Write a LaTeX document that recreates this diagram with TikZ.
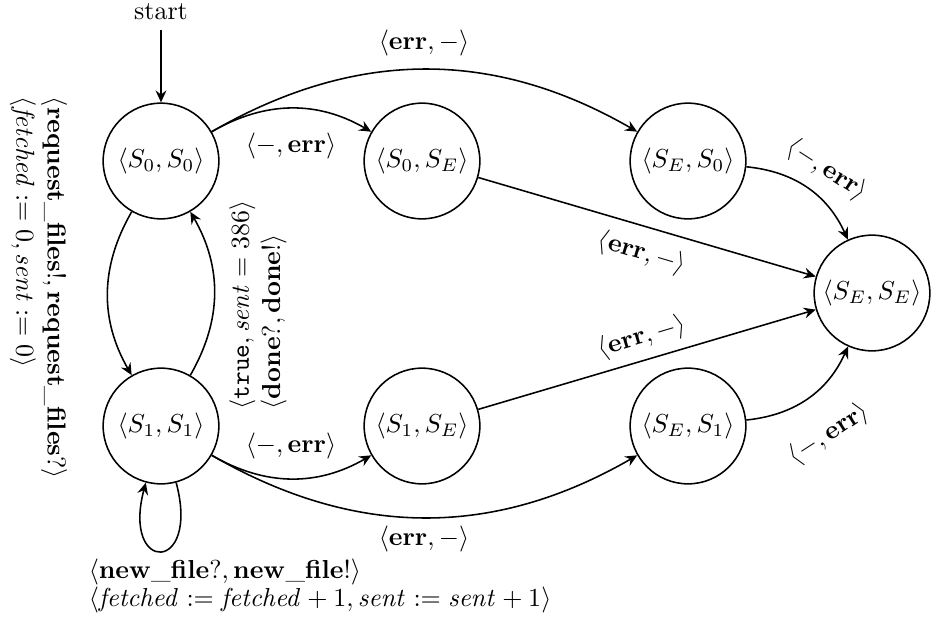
\documentclass[tikz,border=0pt]{standalone}
\usetikzlibrary{arrows.meta}
\begin{document}
\begin{tikzpicture}[x=0.3846pt,y=0.3846pt,
    >={Stealth[length=4.6pt,width=4.2pt,inset=1.6pt]},
    every path/.style={semithick},
    state/.style={circle,draw,semithick,minimum size=44.5pt,inner sep=0pt},
    lbl/.style={inner sep=0pt},
    tr/.style={->}]
  \useasboundingbox (0,0) rectangle (936,-623);

  % states
  \node[state] (s00) at (161,-161) {$\langle S_0,S_0\rangle$};
  \node[state] (s11) at (161,-426) {$\langle S_1,S_1\rangle$};
  \node[state] (s0e) at (422,-161) {$\langle S_0,S_E\rangle$};
  \node[state] (s1e) at (422,-426) {$\langle S_1,S_E\rangle$};
  \node[state] (se0) at (688,-161) {$\langle S_E,S_0\rangle$};
  \node[state] (se1) at (688,-426) {$\langle S_E,S_1\rangle$};
  \node[state] (see) at (872,-293) {$\langle S_E,S_E\rangle$};

  % initial marker
  \node (start) at (161,-12) {start};
  \draw[tr] (start) -- (s00);

  % transitions
  \draw[tr] (s00) to[bend right=30] (s11);
  \draw[tr] (s11) to[bend right=30] (s00);
  \draw[tr] (s00) to[bend left=30] (s0e);
  \draw[tr] (s00) to[bend left=30] (se0);
  \draw[tr] (s11) to[bend right=30] (s1e);
  \draw[tr] (s11) to[bend right=30] (se1);
  \draw[tr] (s0e) -- (see);
  \draw[tr] (s1e) -- (see);
  \draw[tr] (se0) to[bend left=30] (see);
  \draw[tr] (se1) to[bend right=30] (see);
  \draw[tr] (s11) to[loop below, looseness=8] (s11);

  % transition labels
  \node[lbl, rotate=-90, align=left] (lrq) at (38.5,-288)
    {$\langle \mathbf{request\_files!}, \mathbf{request\_files?}\rangle$\\
     $\langle \mathit{fetched} := 0, \mathit{sent} := 0\rangle$};
  \node[lbl, rotate=90, align=left] (ldn) at (258,-305)
    {$\langle \mathtt{true}, \mathit{sent} = 386\rangle$\\
     $\langle \mathbf{done?}, \mathbf{done!}\rangle$};
  \node[lbl, anchor=west, align=left] (lnf) at (88,-586)
    {$\langle \mathbf{new\_file?}, \mathbf{new\_file!}\rangle$\\[-1pt]
     $\langle \mathit{fetched} := \mathit{fetched} + 1, \mathit{sent} := \mathit{sent} + 1\rangle$};
  \node[lbl] (l1) at (291,-146) {$\langle -, \mathbf{err}\rangle$};
  \node[lbl] (l2) at (291,-446) {$\langle -, \mathbf{err}\rangle$};
  \node[lbl] (l3) at (424,-43) {$\langle \mathbf{err}, -\rangle$};
  \node[lbl] (l4) at (424,-539) {$\langle \mathbf{err}, -\rangle$};
  \node[lbl, rotate=-16.5] (l5) at (642,-253) {$\langle \mathbf{err}, -\rangle$};
  \node[lbl, rotate=16.5] (l6) at (642,-337) {$\langle \mathbf{err}, -\rangle$};
  \node[lbl, rotate=-33] (l7) at (827,-170) {$\langle -, \mathbf{err}\rangle$};
  \node[lbl, rotate=33] (l8) at (829,-434) {$\langle -, \mathbf{err}\rangle$};
\end{tikzpicture}
\end{document}
